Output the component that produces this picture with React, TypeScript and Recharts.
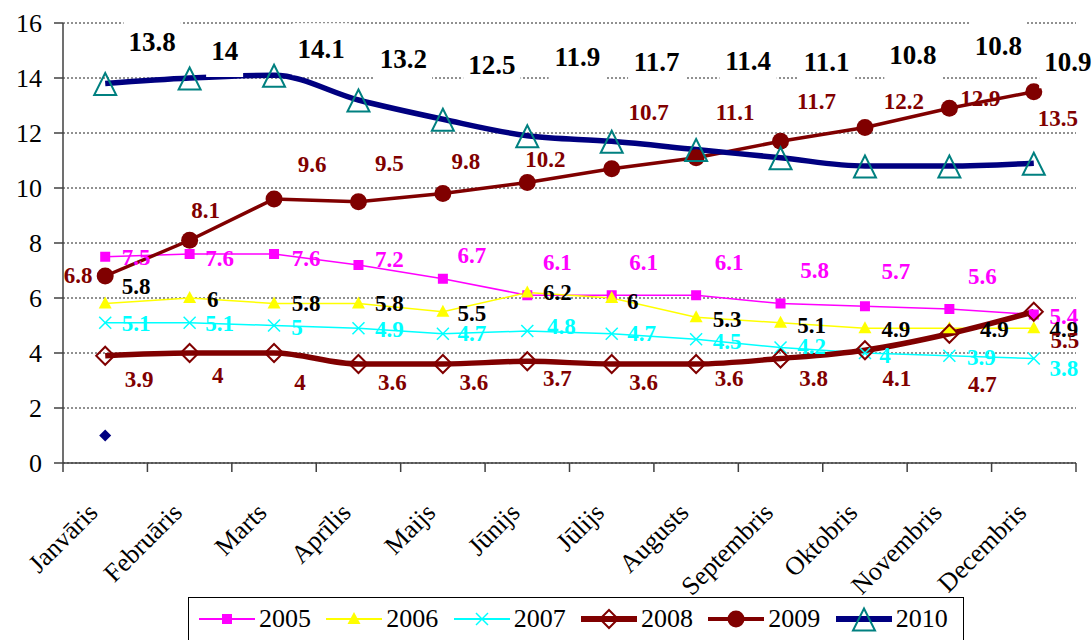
import { CartesianGrid, LabelList, Line, LineChart, XAxis, YAxis } from "recharts";

const months = [
  "Janvāris",
  "Februāris",
  "Marts",
  "Aprīlis",
  "Maijs",
  "Jūnijs",
  "Jūlijs",
  "Augusts",
  "Septembris",
  "Oktobris",
  "Novembris",
  "Decembris",
];
const y2005 = [7.5, 7.6, 7.6, 7.2, 6.7, 6.1, 6.1, 6.1, 5.8, 5.7, 5.6, 5.4];
const y2006 = [5.8, 6, 5.8, 5.8, 5.5, 6.2, 6, 5.3, 5.1, 4.9, 4.9, 4.9];
const y2007 = [5.1, 5.1, 5, 4.9, 4.7, 4.8, 4.7, 4.5, 4.2, 4, 3.9, 3.8];
const y2008 = [3.9, 4, 4, 3.6, 3.6, 3.7, 3.6, 3.6, 3.8, 4.1, 4.7, 5.5];
const y2009 = [6.8, 8.1, 9.6, 9.5, 9.8, 10.2, 10.7, 11.1, 11.7, 12.2, 12.9, 13.5];
const y2010 = [13.8, 14, 14.1, 13.2, 12.5, 11.9, 11.7, 11.4, 11.1, 10.8, 10.8, 10.9];
// lone point under January (stray marker in the source chart)
const stray = [1, null, null, null, null, null, null, null, null, null, null, null];
const yTicks = [0, 2, 4, 6, 8, 10, 12, 14, 16];

const data = months.map((month, i) => ({
  month,
  y2005: y2005[i],
  y2006: y2006[i],
  y2007: y2007[i],
  y2008: y2008[i],
  y2009: y2009[i],
  y2010: y2010[i],
  stray: stray[i],
}));

// label offsets (dx, dy) from each point, placed by hand like in the original
const off2005 = [[31, 1], [30, 4], [32, 4], [31, -6], [29, -23], [30, -33], [32, -33], [33, -33], [34, -33], [31, -35], [33, -33], [30, 2]];
const off2006 = [[31, -17], [23, 1], [32, 0], [31, 0], [29, 2], [30, 0], [21, 3], [31, 2], [31, 3], [31, 1], [45, 1], [30, 1]];
const off2007 = [[31, 1], [30, 1], [23, 2], [31, 1], [29, 0], [34, -5], [30, 0], [31, 2], [31, -1], [20, 2], [32, 2], [30, 10]];
const off2008 = [[34, 24], [28, 22], [26, 29], [34, 18], [31, 18], [30, 17], [32, 18], [33, 14], [33, 20], [32, 28], [33, 51], [31, 29]];
const off2009 = [[-27, -1], [16, -30], [38, -35], [31, -38], [23, -32], [18, -23], [37, -56], [39, -45], [36, -40], [39, -26], [31, -10], [24, 27]];
const off2010 = [[47, -42], [35, -27], [47, -26], [45, -41], [49, -54], [50, -79], [45, -79], [52, -89], [46, -96], [48, -111], [49, -120], [34, -101]];

const FONT = "'Liberation Serif', 'Times New Roman', serif";
const PLOT_LEFT = 63;
const PLOT_RIGHT = 1076;
const PLOT_BOTTOM = 463;
const HALF_BAND = (PLOT_RIGHT - PLOT_LEFT) / months.length / 2;
const DARK_RED = "#800000";

const textWidth = (s: string, size: number) =>
  s.split("").reduce((w, ch) => w + (ch === "." ? 0.25 : 0.5), 0) * size;

const makeLabel =
  (offsets: number[][], color: string, size: number, boxed = false) =>
  (props: any) => {
    const { x, y, value, index } = props;
    if (x == null || y == null || value == null) return null;
    const [dx, dy] = offsets[index] || [30, 0];
    const tx = x + dx;
    const ty = y + dy;
    const str = String(value);
    const w = textWidth(str, size) + 10;
    return (
      <g key={`lbl-${index}`}>
        {boxed && <rect x={tx - w / 2} y={ty - 26} width={w} height={52} fill="#fff" />}
        <text
          x={tx}
          y={ty}
          textAnchor="middle"
          dominantBaseline="central"
          fill={color}
          fontSize={size}
          fontWeight="bold"
          fontFamily={FONT}
        >
          {str}
        </text>
      </g>
    );
  };

const dotSquare = (p: any) =>
  p.cy == null ? <g key={p.index} /> : <rect key={p.index} x={p.cx - 5} y={p.cy - 5} width={10} height={10} fill="#FF00FF" />;
const dotTriangle = (p: any) =>
  p.cy == null ? (
    <g key={p.index} />
  ) : (
    <polygon key={p.index} points={`${p.cx},${p.cy - 7} ${p.cx + 6.5},${p.cy + 5} ${p.cx - 6.5},${p.cy + 5}`} fill="#FFFF00" />
  );
const dotCross = (p: any) =>
  p.cy == null ? (
    <g key={p.index} />
  ) : (
    <g key={p.index} stroke="#00FFFF" strokeWidth={1.5}>
      <line x1={p.cx - 6} y1={p.cy - 6} x2={p.cx + 6} y2={p.cy + 6} />
      <line x1={p.cx - 6} y1={p.cy + 6} x2={p.cx + 6} y2={p.cy - 6} />
    </g>
  );
const dotDiamond = (p: any) =>
  p.cy == null ? (
    <g key={p.index} />
  ) : (
    <polygon
      key={p.index}
      points={`${p.cx},${p.cy - 9} ${p.cx + 9},${p.cy} ${p.cx},${p.cy + 9} ${p.cx - 9},${p.cy}`}
      fill="none"
      stroke={DARK_RED}
      strokeWidth={2}
    />
  );
const dotCircle = (p: any) =>
  p.cy == null ? <g key={p.index} /> : <circle key={p.index} cx={p.cx} cy={p.cy} r={8.5} fill={DARK_RED} />;
const dotOpenTriangle = (p: any) =>
  p.cy == null ? (
    <g key={p.index} />
  ) : (
    <polygon
      key={p.index}
      points={`${p.cx},${p.cy - 10.5} ${p.cx + 11},${p.cy + 11.5} ${p.cx - 11},${p.cy + 11.5}`}
      fill="none"
      stroke="#008080"
      strokeWidth={2}
    />
  );
const dotSmallDiamond = (p: any) =>
  p.cy == null ? (
    <g key={p.index} />
  ) : (
    <polygon
      key={p.index}
      points={`${p.cx},${p.cy - 6} ${p.cx + 6},${p.cy} ${p.cx},${p.cy + 6} ${p.cx - 6},${p.cy}`}
      fill="#000080"
    />
  );

const MonthTick = (props: any) => {
  const { x, payload, index } = props;
  const cx = payload?.coordinate ?? x;
  return (
    <g>
      <line x1={cx - HALF_BAND} x2={cx - HALF_BAND} y1={PLOT_BOTTOM} y2={PLOT_BOTTOM + 9} stroke="#404040" strokeWidth={1.5} />
      {index === months.length - 1 && (
        <line x1={cx + HALF_BAND} x2={cx + HALF_BAND} y1={PLOT_BOTTOM} y2={PLOT_BOTTOM + 9} stroke="#404040" strokeWidth={1.5} />
      )}
      <text
        transform={`translate(${cx - 6},${PLOT_BOTTOM + 51}) rotate(-45)`}
        textAnchor="end"
        fontSize={26}
        fontFamily={FONT}
        fill="#000"
      >
        {payload.value}
      </text>
    </g>
  );
};

const legendItems = [
  { name: "2005", color: "#FF00FF", width: 2, marker: dotSquare },
  { name: "2006", color: "#FFFF00", width: 2, marker: dotTriangle },
  { name: "2007", color: "#00FFFF", width: 2, marker: dotCross },
  { name: "2008", color: DARK_RED, width: 6, marker: dotDiamond },
  { name: "2009", color: DARK_RED, width: 4, marker: dotCircle },
  { name: "2010", color: "#000080", width: 6, marker: dotOpenTriangle },
];

export default function App() {
  return (
    <div style={{ position: "absolute", left: 0, top: 0, width: 1092, height: 640, background: "#fff" }}>
      <LineChart width={1092} height={640} data={data} margin={{ top: 23, right: 16, left: 0, bottom: 0 }}>
        <CartesianGrid vertical={false} stroke="#222" strokeDasharray="2 2" />
        <XAxis
          dataKey="month"
          interval={0}
          height={177}
          padding={{ left: HALF_BAND, right: HALF_BAND }}
          tickLine={false}
          axisLine={{ stroke: "#404040", strokeWidth: 1.5 }}
          tick={<MonthTick />}
        />
        <XAxis
          xAxisId="top"
          dataKey="month"
          orientation="top"
          height={0}
          tick={false}
          tickLine={false}
          axisLine={{ stroke: "#8c8c8c", strokeWidth: 1.5 }}
        />
        <YAxis
          width={63}
          domain={[0, 16]}
          ticks={yTicks}
          tickSize={9}
          tickMargin={12}
          axisLine={{ stroke: "#404040", strokeWidth: 1.5 }}
          tickLine={{ stroke: "#404040", strokeWidth: 1.5 }}
          tick={{ fontSize: 26, fontFamily: FONT, fill: "#000" }}
        />
        <YAxis
          yAxisId="right"
          orientation="right"
          width={0}
          domain={[0, 16]}
          tick={false}
          tickLine={false}
          axisLine={{ stroke: "#8c8c8c", strokeWidth: 1.5 }}
        />
        <Line dataKey="y2005" stroke="#FF00FF" strokeWidth={1.5} dot={dotSquare} isAnimationActive={false}>
          <LabelList dataKey="y2005" content={makeLabel(off2005, "#FF00FF", 23)} />
        </Line>
        <Line dataKey="y2006" stroke="#FFFF00" strokeWidth={1.5} dot={dotTriangle} isAnimationActive={false}>
          <LabelList dataKey="y2006" content={makeLabel(off2006, "#000", 23)} />
        </Line>
        <Line dataKey="y2007" stroke="#00FFFF" strokeWidth={1.5} dot={dotCross} isAnimationActive={false}>
          <LabelList dataKey="y2007" content={makeLabel(off2007, "#00FFFF", 23)} />
        </Line>
        <Line type="monotone" dataKey="y2008" stroke={DARK_RED} strokeWidth={5.5} dot={dotDiamond} isAnimationActive={false}>
          <LabelList dataKey="y2008" content={makeLabel(off2008, DARK_RED, 23)} />
        </Line>
        <Line dataKey="y2009" stroke={DARK_RED} strokeWidth={3.5} dot={dotCircle} isAnimationActive={false}>
          <LabelList dataKey="y2009" content={makeLabel(off2009, DARK_RED, 23)} />
        </Line>
        <Line type="monotone" dataKey="y2010" stroke="#000080" strokeWidth={5.5} dot={dotOpenTriangle} isAnimationActive={false}>
          <LabelList dataKey="y2010" content={makeLabel(off2010, "#000", 27, true)} />
        </Line>
        <Line dataKey="stray" stroke="none" dot={dotSmallDiamond} legendType="none" isAnimationActive={false} />
      </LineChart>
      <div
        style={{
          position: "absolute",
          left: 188,
          top: 597,
          width: 776,
          height: 43,
          boxSizing: "border-box",
          border: "1px solid #000",
          borderBottom: "none",
          background: "#fff",
          display: "flex",
          alignItems: "center",
          paddingLeft: 10,
          fontFamily: FONT,
          fontSize: 26,
          color: "#000",
        }}
      >
        {legendItems.map((item) => (
          <div key={item.name} style={{ display: "flex", alignItems: "center", width: 130 }}>
            <svg width={56} height={26}>
              <line x1={0} x2={56} y1={13} y2={13} stroke={item.color} strokeWidth={item.width} />
              {item.marker({ cx: 28, cy: 13, index: 0 })}
            </svg>
            <span style={{ marginLeft: 4, lineHeight: "26px" }}>{item.name}</span>
          </div>
        ))}
      </div>
    </div>
  );
}
